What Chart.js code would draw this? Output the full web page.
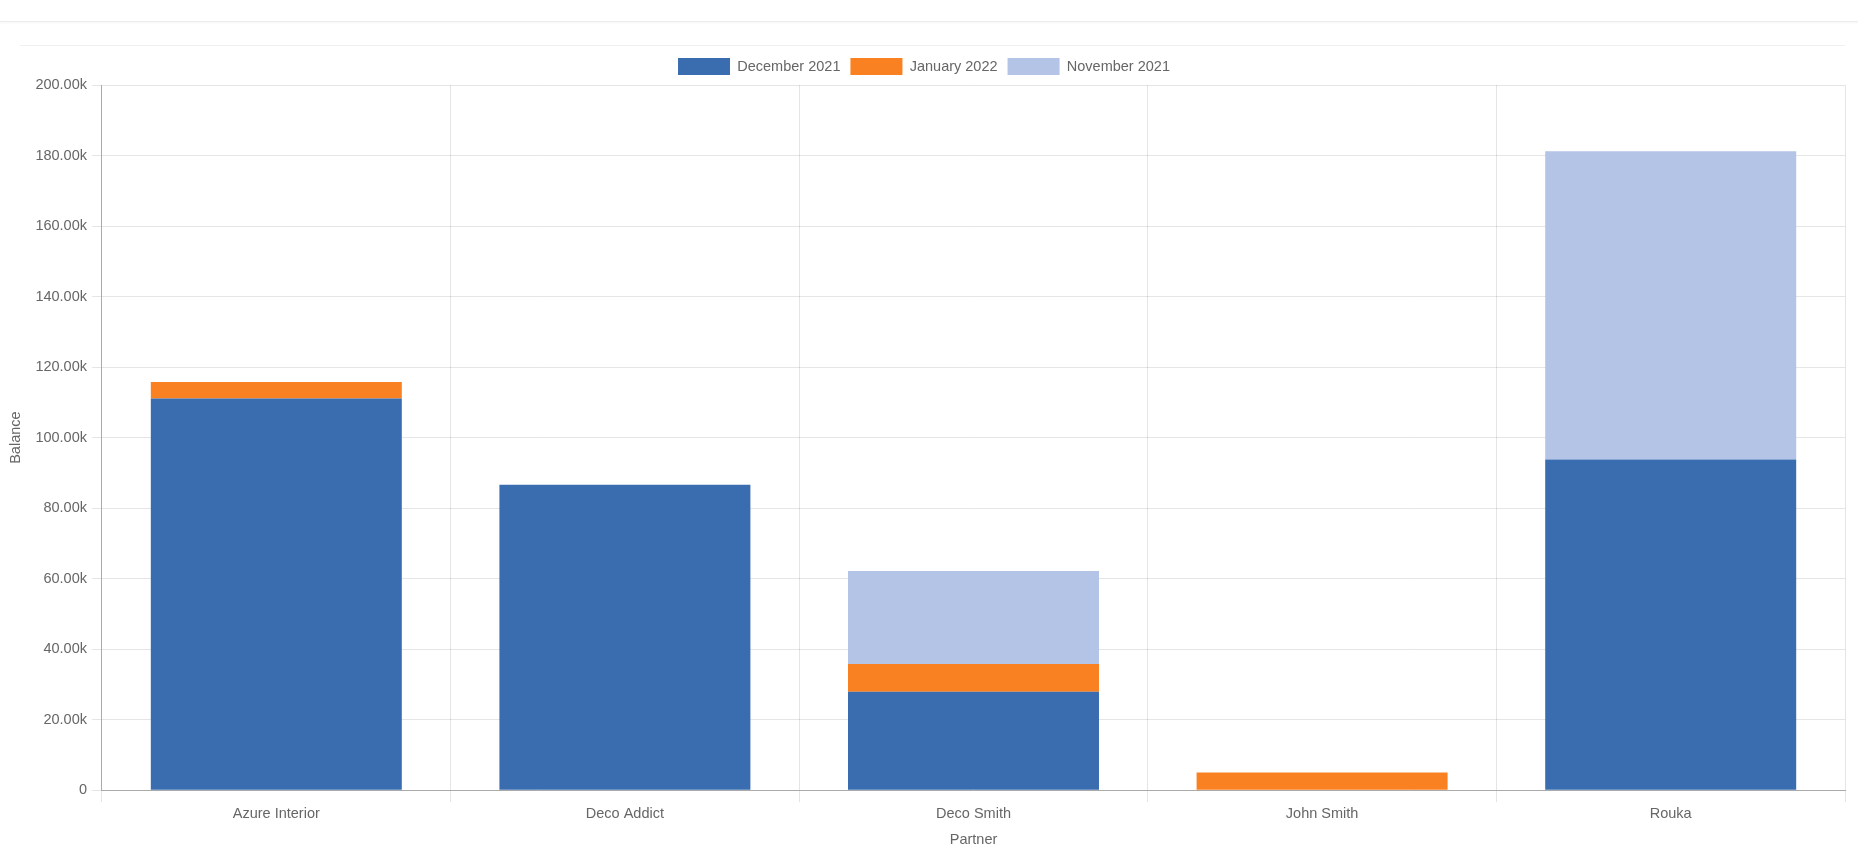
<!DOCTYPE html>
<html>
<head>
<meta charset="utf-8">
<script src="https://cdn.jsdelivr.net/npm/chart.js@4.4.0/dist/chart.umd.min.js"></script>
<style>
  body { margin: 0; background: #fff; font-family: "Liberation Sans", Arial, sans-serif; }
  .topbar { position: absolute; left: 0; top: 0; width: 1858px; height: 21px; border-bottom: 1px solid #ececec; box-shadow: 0 1px 2px rgba(0,0,0,0.04); }
  .sep { position: absolute; left: 20px; top: 45px; width: 1825px; height: 0; border-top: 1px solid #f0f0f0; }
  .wrap { position: absolute; left: 0; top: 47px; width: 1858px; height: 805px; }
</style>
</head>
<body>
<div class="topbar"></div>
<div class="sep"></div>
<div class="wrap"><canvas id="chart"></canvas></div>
<script>
const partners = ["Azure Interior", "Deco Addict", "Deco Smith", "John Smith", "Rouka"];
const december2021 = [111100, 86600, 27900, 0, 93800];
const january2022 = [4700, 0, 7900, 5000, 0];
const november2021 = [0, 0, 26400, 0, 87400];

const gris = "#666";
const police = { family: "'Liberation Sans', Arial, sans-serif", size: 14.5 };

new Chart(document.getElementById("chart"), {
  type: "bar",
  data: {
    labels: partners,
    datasets: [
      { label: "December 2021", data: december2021, backgroundColor: "#3a6cb0" },
      { label: "January 2022", data: january2022, backgroundColor: "#fa8122" },
      { label: "November 2021", data: november2021, backgroundColor: "#b3c4e6" },
    ],
  },
  options: {
    responsive: true,
    maintainAspectRatio: false,
    animation: false,
    layout: { padding: { left: 3, right: 13, top: 1, bottom: 1 } },
    plugins: {
      legend: {
        position: "top",
        labels: { boxWidth: 52, boxHeight: 17, color: gris, font: police, padding: 10 },
      },
      tooltip: { enabled: false },
    },
    scales: {
      x: {
        stacked: true,
        grid: { color: "rgba(0,0,0,0.1)", tickLength: 12 },
        border: { color: "#aaa" },
        ticks: { color: gris, font: police },
        title: { display: true, text: "Partner", color: gris, font: police, padding: { top: 6, bottom: 2 } },
      },
      y: {
        stacked: true,
        min: 0,
        max: 200000,
        grid: { color: "rgba(0,0,0,0.1)", tickLength: 10 },
        border: { color: "#aaa" },
        ticks: {
          stepSize: 20000,
          color: gris,
          font: police,
          padding: 5,
          callback: (v) => (v === 0 ? "0" : (v / 1000).toFixed(2) + "k"),
        },
        title: { display: true, text: "Balance", color: gris, font: police, padding: { top: 4, bottom: 6 } },
      },
    },
  },
});
</script>
</body>
</html>
